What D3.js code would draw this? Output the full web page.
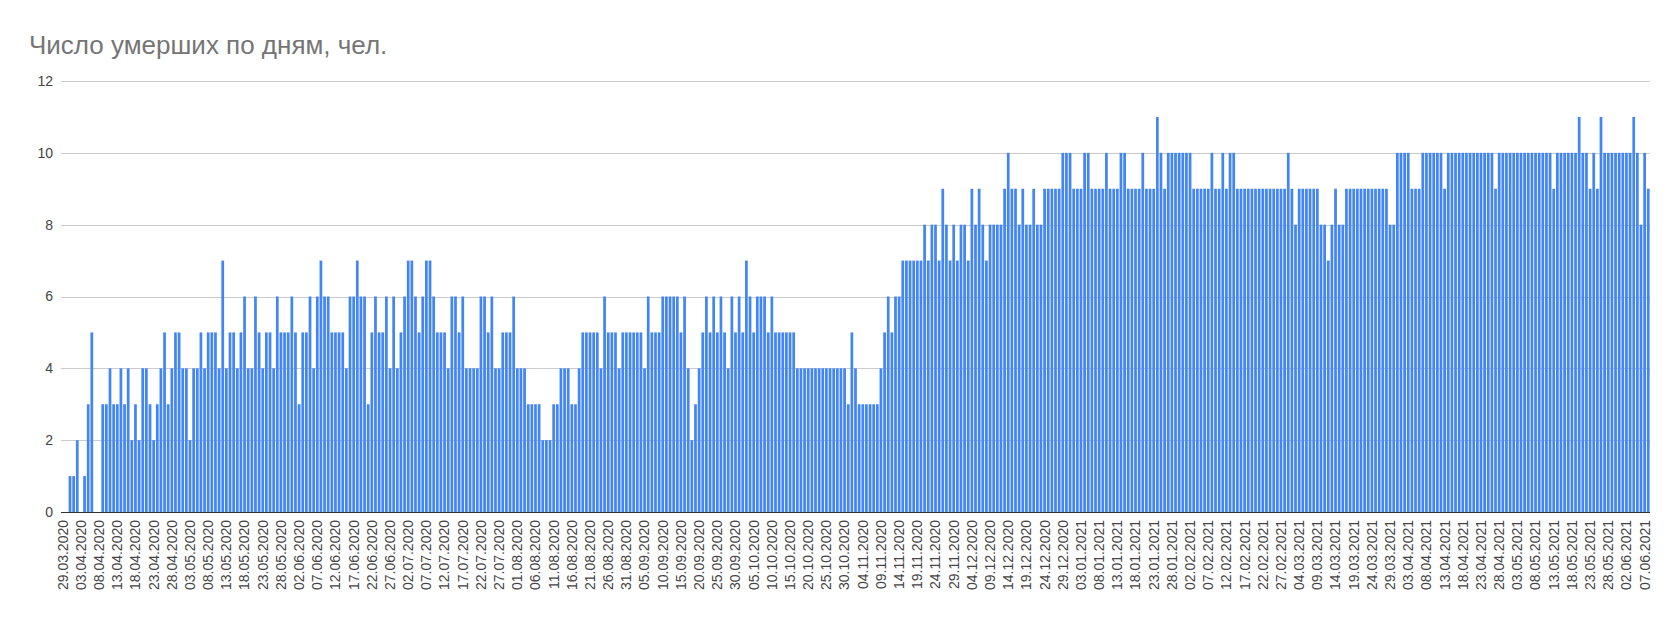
<!DOCTYPE html>
<html>
<head>
<meta charset="utf-8">
<script src="https://cdn.jsdelivr.net/npm/d3@7"></script>
<style>
  body { margin: 0; background: #fff; }
  svg { display: block; }
  text { font-family: "Liberation Sans", Arial, sans-serif; }
</style>
</head>
<body>
<svg id="chart" width="1677" height="623"></svg>
<script>
// ---------------- DATA ----------------
const chartTitle = "Число умерших по дням, чел.";
const firstDay = [2020, 2, 29]; // 29.03.2020 (month is 0-based)

const mar2020 = [0,0,1];
const apr2020 = [1,2,0,1,3,5,0,0,3,3,4,3,3,4,3,4,2,3,2,4,4,3,2,3,4,5,3,4,5,5];
const may2020 = [4,4,2,4,4,5,4,5,5,5,4,7,4,5,5,4,5,6,4,4,6,5,4,5,5,4,6,5,5,5,6];
const jun2020 = [5,3,5,5,6,4,6,7,6,6,5,5,5,5,4,6,6,7,6,6,3,5,6,5,5,6,4,6,4,5];
const jul2020 = [6,7,7,6,5,6,7,7,6,5,5,5,4,6,6,5,6,4,4,4,4,6,6,5,6,4,4,5,5,5,6];
const aug2020 = [4,4,4,3,3,3,3,2,2,2,3,3,4,4,4,3,3,4,5,5,5,5,5,4,6,5,5,5,4,5,5];
const sep2020 = [5,5,5,5,4,6,5,5,5,6,6,6,6,6,5,6,4,2,3,4,5,6,5,6,5,6,5,4,6,5];
const oct2020 = [6,5,7,6,5,6,6,6,5,6,5,5,5,5,5,5,4,4,4,4,4,4,4,4,4,4,4,4,4,4,3];
const nov2020 = [5,4,3,3,3,3,3,3,4,5,6,5,6,6,7,7,7,7,7,7,8,7,8,8,7,9,8,7,8,7];
const dec2020 = [8,8,7,9,8,9,8,7,8,8,8,8,9,10,9,9,8,9,8,8,9,8,8,9,9,9,9,9,10,10,10];
const jan2021 = [9,9,9,10,10,9,9,9,9,10,9,9,9,10,10,9,9,9,9,10,9,9,9,11,10,9,10,10,10,10,10];
const feb2021 = [10,10,9,9,9,9,9,10,9,9,10,9,10,10,9,9,9,9,9,9,9,9,9,9,9,9,9,9];
const mar2021 = [10,9,8,9,9,9,9,9,9,8,8,7,8,9,8,8,9,9,9,9,9,9,9,9,9,9,9,9,8,8,10];
const apr2021 = [10,10,10,9,9,9,10,10,10,10,10,10,9,10,10,10,10,10,10,10,10,10,10,10,10,10,9,10,10,10];
const may2021 = [10,10,10,10,10,10,10,10,10,10,10,10,9,10,10,10,10,10,10,11,10,10,9,10,9,11,10,10,10,10,10];
const jun2021 = [10,10,10,11,10,8,10,9];

const yTickValues = [0, 2, 4, 6, 8, 10, 12];
const xLabelEvery = 5;

const deaths = [].concat(mar2020, apr2020, may2020, jun2020, jul2020, aug2020, sep2020,
  oct2020, nov2020, dec2020, jan2021, feb2021, mar2021, apr2021, may2021, jun2021);
const start = new Date(firstDay[0], firstDay[1], firstDay[2]);
const fmt = d3.timeFormat("%d.%m.%Y");
const days = deaths.map((v, i) => ({ label: fmt(d3.timeDay.offset(start, i)), value: v }));

// ---------------- LAYOUT ----------------
const svg = d3.select("#chart");
const plotLeft = 61, plotRight = 1650, plotTop = 81, plotBottom = 512;

const x = d3.scaleBand()
  .domain(days.map(d => d.label))
  .range([plotLeft, plotRight])
  .paddingInner(0.25)
  .paddingOuter(0.1);

const y = d3.scaleLinear().domain([0, 12]).range([plotBottom, plotTop]);

svg.append("rect").attr("width", 1677).attr("height", 623).attr("fill", "#fff");

// title
svg.append("text")
  .attr("x", 29).attr("y", 54)
  .attr("fill", "#757575")
  .attr("font-size", 26)
  .text(chartTitle);

// gridlines + y labels
const yAxis = d3.axisLeft(y).tickValues(yTickValues).tickSize(-(plotRight - plotLeft)).tickPadding(8);
const gy = svg.append("g").attr("transform", `translate(${plotLeft},0)`).call(yAxis);
gy.select(".domain").remove();
gy.selectAll(".tick line").attr("stroke", "#cccccc").attr("shape-rendering", "crispEdges");
gy.selectAll(".tick text").attr("fill", "#444").attr("font-size", 14)
  .attr("font-family", '"Liberation Sans", Arial, sans-serif');

// bars
svg.append("g").selectAll("rect")
  .data(days)
  .join("rect")
  .attr("x", d => x(d.label))
  .attr("width", x.bandwidth())
  .attr("y", d => y(d.value))
  .attr("height", d => y(0) - y(d.value))
  .attr("fill", "#4285f4");

// baseline
svg.append("line")
  .attr("x1", plotLeft).attr("x2", plotRight)
  .attr("y1", y(0)).attr("y2", y(0))
  .attr("stroke", "#333").attr("shape-rendering", "crispEdges");

// x labels
const xAxis = d3.axisBottom(x)
  .tickValues(days.filter((d, i) => i % xLabelEvery === 0).map(d => d.label))
  .tickSize(0).tickPadding(0);
const gx = svg.append("g").attr("transform", `translate(0,${plotBottom})`).call(xAxis);
gx.select(".domain").remove();
gx.selectAll(".tick text")
  .attr("fill", "#444")
  .attr("font-size", 14)
  .attr("font-family", '"Liberation Sans", Arial, sans-serif')
  .attr("text-anchor", "end")
  .attr("transform", "translate(0,8) rotate(-90)")
  .attr("x", 0).attr("y", 0).attr("dy", "0.35em");
</script>
</body>
</html>
